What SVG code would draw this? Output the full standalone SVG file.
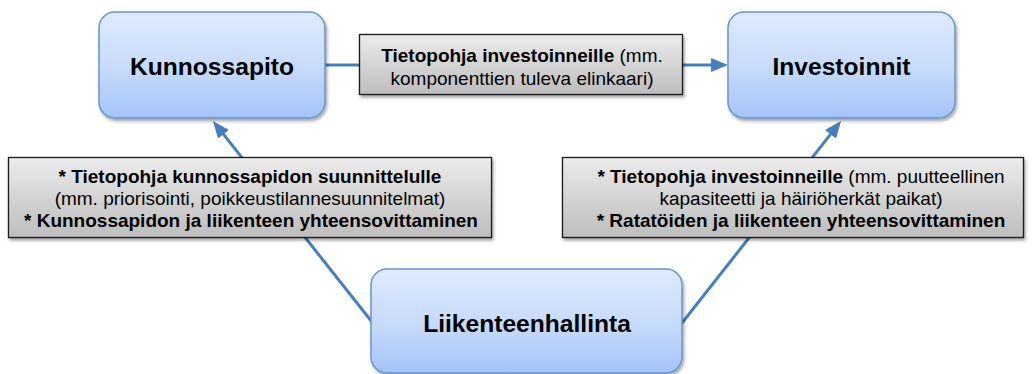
<svg xmlns="http://www.w3.org/2000/svg" width="1032" height="374" viewBox="0 0 1032 374">
  <defs>
    <linearGradient id="nodeFill" x1="0" y1="0" x2="0" y2="1">
      <stop offset="0" stop-color="#dfeafd"/>
      <stop offset="0.55" stop-color="#c6dafa"/>
      <stop offset="1" stop-color="#a3c3f7"/>
    </linearGradient>
    <linearGradient id="labelFill" x1="0" y1="0" x2="0" y2="1">
      <stop offset="0" stop-color="#ececec"/>
      <stop offset="0.5" stop-color="#d4d4d4"/>
      <stop offset="1" stop-color="#bdbdbd"/>
    </linearGradient>
    <filter id="shadow" x="-10%" y="-10%" width="125%" height="135%">
      <feDropShadow dx="1.5" dy="2.5" stdDeviation="1.8" flood-color="#000" flood-opacity="0.35"/>
    </filter>
    <marker id="arrow" markerUnits="userSpaceOnUse" markerWidth="17" markerHeight="14" viewBox="0 0 10 10" refX="7.6" refY="5" orient="auto" preserveAspectRatio="none">
      <path d="M0,0 L10,5 L0,10 z" fill="#4a7ebb"/>
    </marker>
  </defs>
  <style>
    .node rect { fill: url(#nodeFill); stroke: #6a94cd; stroke-width: 1.5; filter: url(#shadow); }
    .node text { font-family: "Liberation Sans", Arial, sans-serif; font-weight: bold; font-size: 24.6px; fill: #000; text-anchor: middle; }
    .label rect { fill: url(#labelFill); stroke: #1a1a1a; stroke-width: 1.3; filter: url(#shadow); }
    .label text { font-family: "Liberation Sans", Arial, sans-serif; font-size: 19px; fill: #000; text-anchor: middle; }
    .b { font-weight: bold; }
    .edge { stroke: #4a7ebb; stroke-width: 3; fill: none; }
  </style>

  <!-- connectors (drawn first so the label boxes sit on top of them) -->
  <g id="connectors">
    <line class="edge" x1="325" y1="65" x2="360" y2="65"/>
    <line class="edge" x1="683" y1="65" x2="724" y2="65" marker-end="url(#arrow)"/>
    <line class="edge" x1="372" y1="322" x2="215.5" y2="124.1" marker-end="url(#arrow)"/>
    <line class="edge" x1="682" y1="323" x2="838.5" y2="124.1" marker-end="url(#arrow)"/>
  </g>

  <!-- connector labels -->
  <g id="label-top" class="label">
    <rect x="359.5" y="34.5" width="323" height="60"/>
    <text x="522" y="61.5"><tspan class="b">Tietopohja investoinneille</tspan> (mm.</text>
    <text x="522" y="84.5">komponenttien tuleva elinkaari)</text>
  </g>
  <g id="label-left" class="label">
    <rect x="8.5" y="157.5" width="483" height="80"/>
    <text x="250" y="182.5" class="b">* Tietopohja kunnossapidon suunnittelulle</text>
    <text x="250" y="204.5">(mm. priorisointi, poikkeustilannesuunnitelmat)</text>
    <text x="251" y="226.5" class="b">* Kunnossapidon ja liikenteen yhteensovittaminen</text>
  </g>
  <g id="label-right" class="label">
    <rect x="562.5" y="157.5" width="461" height="80"/>
    <text x="801" y="182.5"><tspan class="b">* Tietopohja investoinneille</tspan> (mm. puutteellinen</text>
    <text x="801" y="204.5">kapasiteetti ja häiriöherkät paikat)</text>
    <text x="801" y="226.5" class="b">* Ratatöiden ja liikenteen yhteensovittaminen</text>
  </g>

  <!-- nodes -->
  <g id="node-kunnossapito" class="node">
    <rect x="99" y="12" width="226" height="106" rx="16" ry="16"/>
    <text x="212" y="74.5">Kunnossapito</text>
  </g>
  <g id="node-investoinnit" class="node">
    <rect x="728" y="12" width="227" height="106" rx="16" ry="16"/>
    <text x="841.5" y="74.5">Investoinnit</text>
  </g>
  <g id="node-liikenteenhallinta" class="node">
    <rect x="371" y="269" width="311" height="104" rx="16" ry="16"/>
    <text x="527" y="332">Liikenteenhallinta</text>
  </g>
</svg>
